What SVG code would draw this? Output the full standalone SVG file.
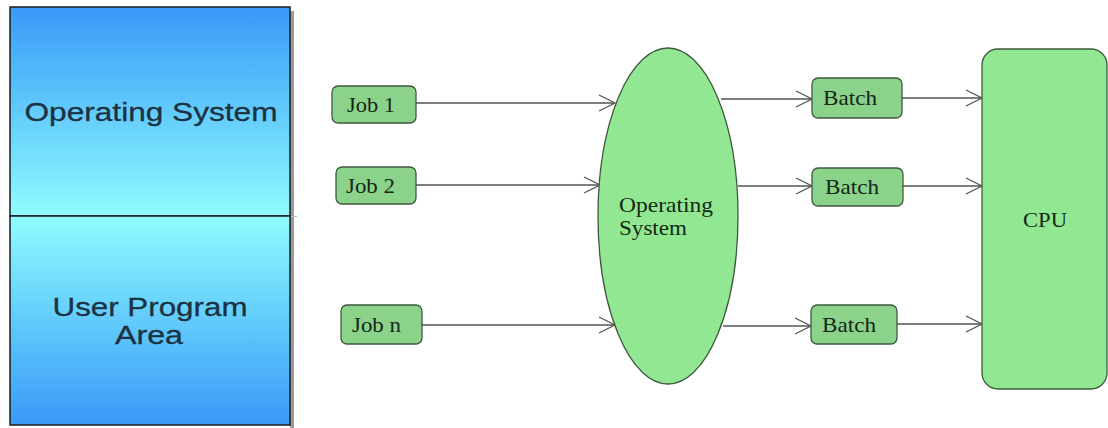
<svg xmlns="http://www.w3.org/2000/svg" width="1108" height="428" viewBox="0 0 1108 428">
<defs>
<linearGradient id="gTop" x1="0" y1="0" x2="0" y2="1">
<stop offset="0" stop-color="#3a98f8"/>
<stop offset="0.45" stop-color="#5ec6fb"/>
<stop offset="1" stop-color="#90fcff"/>
</linearGradient>
<linearGradient id="gBot" x1="0" y1="0" x2="0" y2="1">
<stop offset="0" stop-color="#90fcff"/>
<stop offset="0.55" stop-color="#5ec6fb"/>
<stop offset="1" stop-color="#3a98f8"/>
</linearGradient>
<marker id="arr" markerWidth="20" markerHeight="20" refX="17" refY="9" orient="auto" markerUnits="userSpaceOnUse">
<path d="M1,1 L17,9 L1,17" fill="none" stroke="#555" stroke-width="1.3"/>
</marker>
</defs>
<style>
.mem{stroke:#1b1b1b;stroke-width:1.5}
.memtxt{font-family:"Liberation Sans",Arial,sans-serif;font-size:26px;fill:#1b3242;stroke:#1b3242;stroke-width:0.3;text-anchor:middle}
.box{fill:#8bd28b;stroke:#3e5a3e;stroke-width:1.3}
.big{fill:#92e892;stroke:#3e5a3e;stroke-width:1.3}
.lbl{font-family:"Liberation Serif","Times New Roman",serif;font-size:21px;fill:#152815}
.conn{stroke:#555;stroke-width:1.3;fill:none;marker-end:url(#arr)}
</style>
<rect width="1108" height="428" fill="#ffffff"/>

<g id="memory">
<rect x="290" y="11" width="4" height="417" fill="#9a9a9a"/>
<line x1="290" y1="216.5" x2="297" y2="216.5" stroke="#bbb" stroke-width="1"/>
<rect class="mem" x="10" y="7" width="280" height="209" fill="url(#gTop)"/>
<rect class="mem" x="10" y="216" width="280" height="209" fill="url(#gBot)"/>
<text class="memtxt" x="151" y="121" textLength="253" lengthAdjust="spacingAndGlyphs">Operating System</text>
<text class="memtxt" x="150" y="316" textLength="195" lengthAdjust="spacingAndGlyphs">User Program</text>
<text class="memtxt" x="149" y="344" textLength="68" lengthAdjust="spacingAndGlyphs">Area</text>
</g>

<g id="connectors">
<line class="conn" x1="416" y1="103" x2="615" y2="103"/>
<line class="conn" x1="416" y1="185" x2="600" y2="185"/>
<line class="conn" x1="422" y1="325" x2="615" y2="325"/>
<line class="conn" x1="721" y1="99" x2="812" y2="99"/>
<line class="conn" x1="738" y1="186" x2="812" y2="186"/>
<line class="conn" x1="723" y1="326" x2="811" y2="326"/>
<line class="conn" x1="902" y1="98" x2="982" y2="98"/>
<line class="conn" x1="903" y1="186" x2="982" y2="186"/>
<line class="conn" x1="897" y1="324" x2="982" y2="324"/>
</g>

<g id="job1">
<rect class="box" x="332" y="86" width="84" height="37" rx="6"/>
<text class="lbl" x="347" y="112" textLength="48" lengthAdjust="spacingAndGlyphs">Job 1</text>
</g>
<g id="job2">
<rect class="box" x="336" y="167" width="80" height="37" rx="6"/>
<text class="lbl" x="346" y="193" textLength="49" lengthAdjust="spacingAndGlyphs">Job 2</text>
</g>
<g id="jobn">
<rect class="box" x="341" y="305" width="81" height="39" rx="6"/>
<text class="lbl" x="352" y="332" textLength="49" lengthAdjust="spacingAndGlyphs">Job n</text>
</g>

<g id="os">
<ellipse class="big" cx="668" cy="216" rx="70" ry="168"/>
<text class="lbl" x="619" y="212" font-size="22" textLength="94" lengthAdjust="spacingAndGlyphs">Operating</text>
<text class="lbl" x="619" y="235" font-size="22" textLength="68" lengthAdjust="spacingAndGlyphs">System</text>
</g>

<g id="batch1">
<rect class="box" x="812" y="78" width="90" height="40" rx="6"/>
<text class="lbl" x="823" y="105" textLength="54" lengthAdjust="spacingAndGlyphs">Batch</text>
</g>
<g id="batch2">
<rect class="box" x="812" y="168" width="91" height="38" rx="6"/>
<text class="lbl" x="825" y="194" textLength="54" lengthAdjust="spacingAndGlyphs">Batch</text>
</g>
<g id="batch3">
<rect class="box" x="811" y="305" width="86" height="39" rx="6"/>
<text class="lbl" x="822" y="332" textLength="54" lengthAdjust="spacingAndGlyphs">Batch</text>
</g>

<g id="cpu">
<rect class="big" x="982" y="49" width="125" height="340" rx="16"/>
<text class="lbl" x="1023" y="227" textLength="44" lengthAdjust="spacingAndGlyphs">CPU</text>
</g>
</svg>
